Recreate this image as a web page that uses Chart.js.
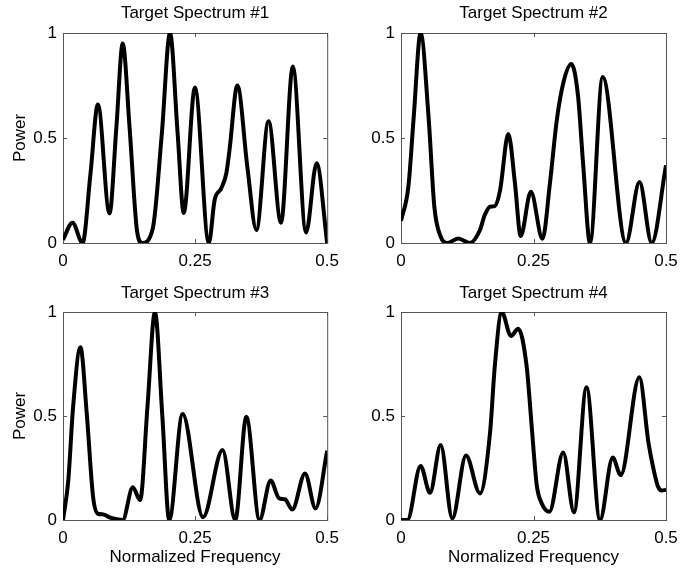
<!DOCTYPE html>
<html>
<head>
<meta charset="utf-8">
<title>Target Spectra</title>
<script src="https://cdn.jsdelivr.net/npm/chart.js@4.4.1/dist/chart.umd.min.js"></script>
<style>
  html, body { margin: 0; padding: 0; background: #fff; }
  #wrap { position: relative; width: 694px; height: 574px; overflow: hidden; }
  #wrap canvas { position: absolute; }
</style>
</head>
<body>
<div id="wrap">
  <canvas id="c1"></canvas>
  <canvas id="c2"></canvas>
  <canvas id="c3"></canvas>
  <canvas id="c4"></canvas>
</div>
<script>
// values
const panelTitles = ['Target Spectrum #1', 'Target Spectrum #2', 'Target Spectrum #3', 'Target Spectrum #4'];
const freqTicks = [0, 0.25, 0.5];
const powerTicks = [0, 0.5, 1];

const freq1 = [0, 0.018, 0.037, 0.052, 0.066, 0.088, 0.101, 0.113, 0.126, 0.140, 0.150, 0.170, 0.187, 0.2025, 0.217, 0.2285, 0.2497, 0.276, 0.287, 0.2994, 0.309, 0.315, 0.330, 0.349, 0.366, 0.389, 0.4126, 0.435, 0.460, 0.480, 0.5];
const power1 = [0.015, 0.097, 0, 0.33, 0.66, 0.141, 0.55, 0.95, 0.55, 0.06, 0, 0.07, 0.52, 1.0, 0.52, 0.143, 0.74, 0, 0.205, 0.26, 0.33, 0.44, 0.75, 0.36, 0.062, 0.58, 0.097, 0.84, 0.05, 0.38, 0];

const freq2 = [0, 0.014, 0.024, 0.037, 0.052, 0.063, 0.075, 0.088, 0.108, 0.130, 0.149, 0.158, 0.168, 0.177, 0.187, 0.2025, 0.215, 0.2258, 0.245, 0.267, 0.281, 0.294, 0.307, 0.3214, 0.334, 0.344, 0.3566, 0.3805, 0.4245, 0.45, 0.473, 0.5];
const power2 = [0.105, 0.27, 0.60, 1.0, 0.60, 0.17, 0.03, 0, 0.022, 0, 0.062, 0.133, 0.173, 0.176, 0.252, 0.519, 0.285, 0.033, 0.244, 0.02, 0.284, 0.586, 0.77, 0.852, 0.70, 0.363, 0, 0.79, 0, 0.29, 0, 0.37];

const freq3 = [0, 0.010, 0.019, 0.033, 0.045, 0.057, 0.066, 0.076, 0.088, 0.100, 0.113, 0.132, 0.146, 0.160, 0.174, 0.188, 0.201, 0.2264, 0.265, 0.302, 0.326, 0.347, 0.372, 0.393, 0.409, 0.42, 0.434, 0.458, 0.478, 0.5];
const power3 = [0, 0.19, 0.54, 0.83, 0.51, 0.11, 0.03, 0.027, 0.013, 0.005, 0, 0.157, 0.096, 0.55, 1.0, 0.5, 0, 0.51, 0.013, 0.336, 0, 0.496, 0, 0.19, 0.104, 0.1, 0.05, 0.224, 0.056, 0.333];

const freq4 = [0, 0.012, 0.037, 0.0547, 0.0749, 0.0968, 0.1226, 0.149, 0.168, 0.177, 0.190, 0.2075, 0.221, 0.237, 0.2466, 0.256, 0.2655, 0.280, 0.306, 0.3264, 0.350, 0.3755, 0.3994, 0.4145, 0.4497, 0.467, 0.476, 0.485, 0.492, 0.5];
const power4 = [0, 0, 0.26, 0.131, 0.36, 0.008, 0.31, 0.128, 0.42, 0.74, 1.0, 0.885, 0.92, 0.74, 0.45, 0.17, 0.08, 0.04, 0.324, 0.037, 0.638, 0, 0.30, 0.216, 0.686, 0.37, 0.25, 0.16, 0.142, 0.145];

const FONT = "'Liberation Sans', Arial, Helvetica, sans-serif";

// box round the axes with inward tick marks on all four sides (matlab look)
const frameTicks = {
  id: 'frameTicks',
  beforeDatasetsDraw(chart) {
    const { ctx, chartArea: a, scales: { x, y } } = chart;
    const len = 4;
    ctx.save();
    ctx.strokeStyle = '#555';
    ctx.lineWidth = 1;
    ctx.strokeRect(a.left + 0.5, a.top + 0.5, a.width, a.height);
    ctx.beginPath();
    x.ticks.forEach((t) => {
      const px = Math.round(x.getPixelForValue(t.value)) + 0.5;
      ctx.moveTo(px, a.bottom); ctx.lineTo(px, a.bottom - len);
      ctx.moveTo(px, a.top); ctx.lineTo(px, a.top + len);
    });
    y.ticks.forEach((t) => {
      const py = Math.round(y.getPixelForValue(t.value)) + 0.5;
      ctx.moveTo(a.left, py); ctx.lineTo(a.left + len, py);
      ctx.moveTo(a.right, py); ctx.lineTo(a.right - len, py);
    });
    ctx.stroke();
    ctx.restore();
  },
};

const panels = [
  { id: 'c1', left: 0, top: 0, w: 347, h: 280, yw: 63, padR: 19, xh: 37, areaTop: 33, freq: freq1, power: power1, yTitle: true, xTitle: false },
  { id: 'c2', left: 347, top: 0, w: 347, h: 280, yw: 54, padR: 28, xh: 37, areaTop: 33, freq: freq2, power: power2, yTitle: false, xTitle: false },
  { id: 'c3', left: 0, top: 280, w: 347, h: 294, yw: 63, padR: 19, xh: 54, areaTop: 32, freq: freq3, power: power3, yTitle: true, xTitle: true },
  { id: 'c4', left: 347, top: 280, w: 347, h: 294, yw: 54, padR: 28, xh: 54, areaTop: 32, freq: freq4, power: power4, yTitle: false, xTitle: true },
];

panels.forEach((p, i) => {
  const canvas = document.getElementById(p.id);
  canvas.width = p.w;
  canvas.height = p.h;
  canvas.style.left = p.left + 'px';
  canvas.style.top = p.top + 'px';
  canvas.style.width = p.w + 'px';
  canvas.style.height = p.h + 'px';

  const titleTopPad = 3.5;
  const titleLine = 17 * 1.2;

  new Chart(canvas, {
    type: 'line',
    data: {
      datasets: [{
        data: p.freq.map((f, k) => ({ x: f, y: p.power[k] })),
        borderColor: '#000',
        borderWidth: 4,
        pointRadius: 0,
        fill: false,
        cubicInterpolationMode: 'monotone',
      }],
    },
    options: {
      responsive: false,
      animation: false,
      layout: { padding: { left: 0, right: p.padR, top: 0, bottom: 0 } },
      plugins: {
        legend: { display: false },
        tooltip: { enabled: false },
        title: {
          display: true,
          text: panelTitles[i],
          fullSize: false,
          color: '#000',
          font: { family: FONT, size: 17, weight: 'normal' },
          padding: { top: titleTopPad, bottom: p.areaTop - titleLine - titleTopPad },
        },
      },
      scales: {
        x: {
          type: 'linear',
          min: 0,
          max: 0.5,
          afterBuildTicks: (s) => { s.ticks = freqTicks.map((v) => ({ value: v })); },
          afterFit: (s) => { s.height = p.xh; },
          grid: { display: false, drawTicks: false },
          border: { display: false },
          ticks: {
            color: '#000',
            padding: 8,
            maxRotation: 0,
            font: { family: FONT, size: 17 },
            callback: (v) => String(v),
          },
          title: {
            display: p.xTitle,
            text: 'Normalized Frequency',
            color: '#000',
            font: { family: FONT, size: 17 },
            padding: { top: 0, bottom: 6 },
          },
        },
        y: {
          min: 0,
          max: 1,
          afterBuildTicks: (s) => { s.ticks = powerTicks.map((v) => ({ value: v })); },
          afterFit: (s) => { s.width = p.yw; },
          grid: { display: false, drawTicks: false },
          border: { display: false },
          ticks: {
            color: '#000',
            padding: 6,
            font: { family: FONT, size: 17 },
            callback: (v) => String(v),
          },
          title: {
            display: p.yTitle,
            text: 'Power',
            color: '#000',
            font: { family: FONT, size: 17 },
            padding: { top: 10, bottom: 0 },
          },
        },
      },
    },
    plugins: [frameTicks],
  });
});
</script>
</body>
</html>
